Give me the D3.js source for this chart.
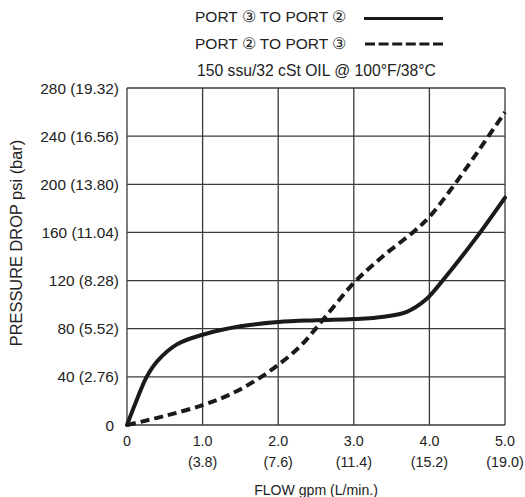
<!DOCTYPE html>
<html><head><meta charset="utf-8">
<script src="https://cdn.jsdelivr.net/npm/d3@7"></script>
<style>
html,body{margin:0;padding:0;background:#fff;}
svg text{font-family:"Liberation Sans",Arial,Helvetica,sans-serif;fill:#222;}
</style></head>
<body>
<svg id="c" width="525" height="497"></svg>
<script>
// Data
const xTicks = [0, 1, 2, 3, 4, 5];
const xTickLabels = ["0", "1.0", "2.0", "3.0", "4.0", "5.0"];
const xTickSub = ["", "(3.8)", "(7.6)", "(11.4)", "(15.2)", "(19.0)"];
const yTicks = [0, 40, 80, 120, 160, 200, 240, 280];
const yTickLabels = ["0", "40 (2.76)", "80 (5.52)", "120 (8.28)", "160 (11.04)", "200 (13.80)", "240 (16.56)", "280 (19.32)"];

const port3to2Flow = [0, 0.13, 0.26, 0.4, 0.66, 1.0, 1.5, 2.0, 2.5, 3.0, 3.4, 3.7, 3.95, 4.2, 4.6, 5.0];
const port3to2Psi  = [0, 21, 40, 53, 67, 75, 82, 85.5, 87, 88, 90, 94, 104, 122, 154, 189];
const port2to3Flow = [0, 0.5, 1.0, 1.35, 1.7, 2.0, 2.3, 2.6, 3.0, 3.4, 3.8, 4.0, 4.3, 4.65, 5.0];
const port2to3Psi  = [0, 7.5, 16.5, 25, 37, 50, 66, 88, 118, 141, 161, 173, 197, 228, 260];

const legendLabels = ["PORT \u2462 TO PORT \u2461", "PORT \u2461 TO PORT \u2462"];
const noteText = "150 ssu/32 cSt OIL @ 100\u00B0F/38\u00B0C";
const xTitle = "FLOW gpm (L/min.)";
const yTitle = "PRESSURE  DROP psi  (bar)";

const svg = d3.select("#c");
const L = 127, R = 505, T = 88, B = 425;
const x = d3.scaleLinear().domain([0, 5]).range([L, R]);
const y = d3.scaleLinear().domain([0, 280]).range([B, T]);

const gridColor = "#3a3a3a";
svg.append("g").selectAll("line").data(xTicks).join("line")
  .attr("x1", d => x(d)).attr("x2", d => x(d)).attr("y1", T).attr("y2", B)
  .attr("stroke", gridColor).attr("stroke-width", 1.3);
svg.append("g").selectAll("line").data(yTicks).join("line")
  .attr("x1", L).attr("x2", R).attr("y1", d => y(d)).attr("y2", d => y(d))
  .attr("stroke", gridColor).attr("stroke-width", 1.3);

svg.append("g").selectAll("text").data(yTicks).join("text")
  .attr("x", (d) => d === 0 ? L - 13 : L - 8)
  .attr("y", d => y(d) + 5.5)
  .attr("text-anchor", "end").style("font-size", "15.4px")
  .text((d, i) => yTickLabels[i]);

const xt = svg.append("g");
xt.selectAll("text.a").data(xTicks).join("text").attr("class", "a")
  .attr("x", d => x(d)).attr("y", 446).attr("text-anchor", "middle").style("font-size", "14.3px")
  .text((d, i) => xTickLabels[i]);
xt.selectAll("text.b").data(xTicks).join("text").attr("class", "b")
  .attr("x", d => x(d)).attr("y", 467).attr("text-anchor", "middle").style("font-size", "14.3px")
  .text((d, i) => xTickSub[i]);

svg.append("text").attr("x", 316).attr("y", 495).attr("text-anchor", "middle")
  .style("font-size", "14.1px").text(xTitle);
svg.append("text").attr("transform", "translate(22,243) rotate(-90)")
  .attr("text-anchor", "middle").style("font-size", "16.4px").text(yTitle);

const line = d3.line().x(d => x(d[0])).y(d => y(d[1])).curve(d3.curveCatmullRom.alpha(0.5));
const s1 = port3to2Flow.map((f, i) => [f, port3to2Psi[i]]);
const s2 = port2to3Flow.map((f, i) => [f, port2to3Psi[i]]);
svg.append("path").datum(s2).attr("d", line).attr("fill", "none")
  .attr("stroke", "#1a1a1a").attr("stroke-width", 4).attr("stroke-dasharray", "9,5");
svg.append("path").datum(s1).attr("d", line).attr("fill", "none")
  .attr("stroke", "#1a1a1a").attr("stroke-width", 4).attr("stroke-linecap", "round");

const lg = svg.append("g");
lg.append("text").attr("x", 195).attr("y", 22).style("font-size", "15.5px").text(legendLabels[0]);
lg.append("text").attr("x", 195).attr("y", 49).style("font-size", "15.5px").text(legendLabels[1]);
lg.append("line").attr("x1", 364).attr("x2", 443).attr("y1", 18.5).attr("y2", 18.5)
  .attr("stroke", "#1a1a1a").attr("stroke-width", 3.2);
lg.append("line").attr("x1", 365).attr("x2", 443).attr("y1", 44).attr("y2", 44)
  .attr("stroke", "#1a1a1a").attr("stroke-width", 3.2).attr("stroke-dasharray", "10,3.6");
lg.append("text").attr("x", 197).attr("y", 76).style("font-size", "15.7px").text(noteText);
</script>
</body></html>
